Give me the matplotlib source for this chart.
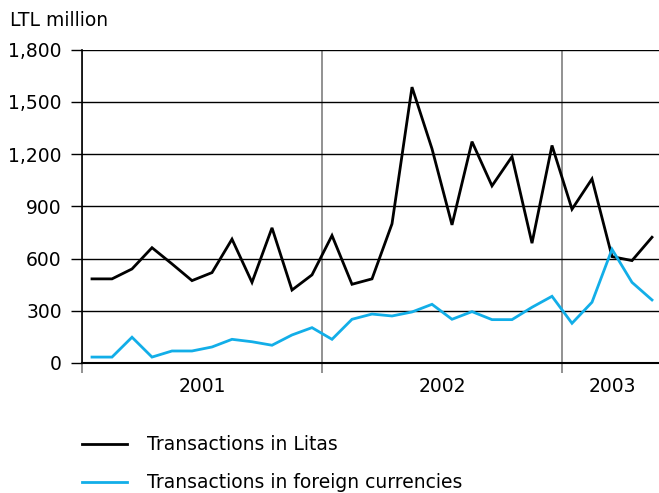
import numpy as np
import matplotlib
matplotlib.use("Agg")
from matplotlib import pyplot as plt
from matplotlib.lines import Line2D
import matplotlib.transforms as mtransforms

# monthly values, Jan 2001 - May 2003, LTL million
litas = [483, 483, 540, 662, 569, 473, 519, 711, 463, 776, 419, 506,
         732, 452, 483, 799, 1584, 1230, 793, 1271, 1017, 1185, 688, 1249,
         883, 1057, 611, 588, 722]
foreign = [34, 34, 148, 34, 69, 69, 92, 136, 122, 102, 161, 203,
           136, 251, 281, 270, 293, 337, 251, 295, 249, 249, 320, 383,
           228, 349, 653, 463, 362]
years = ["2001", "2002", "2003"]
year_start = [0, 12, 24]
year_center = [6, 18, 26.5]
labels = ["Transactions in Litas", "Transactions in foreign currencies"]

plt.rcParams['font.family'] = ['DejaVu Sans']
fs = 13.5

fig = plt.figure(figsize=(6.59, 4.93), dpi=100)
W, H = 659, 493
ax = fig.add_axes([82 / W, 1 - 363 / H, 580 / W, (363 - 49.5) / H])

x = np.arange(len(litas)) + 0.5
ax.plot(x, litas, color="black", lw=2.0, solid_joinstyle="miter", zorder=3)
ax.plot(x, foreign, color="#12aee8", lw=2.0, solid_joinstyle="miter", zorder=3)

ax.set_xlim(0, 29)
ax.set_ylim(0, 1800)
ax.set_yticks(np.arange(0, 1801, 300))
ax.set_yticklabels([f"{v:,}" for v in range(0, 1801, 300)], fontsize=fs)
ax.tick_params(axis="y", length=8, width=1, pad=6.5, color="black")
ax.yaxis.grid(True, color="black", lw=1)

ax.set_xticks(year_start)
ax.set_xticklabels([])
ax.tick_params(axis="x", length=7, width=1.2, color="#7f7f7f")
ax.xaxis.grid(True, color="#7f7f7f", lw=1.2)
ax.set_axisbelow(True)

for s in ["top", "right"]:
    ax.spines[s].set_visible(False)
ax.spines["left"].set_color("black")
ax.spines["left"].set_linewidth(1.2)
ax.spines["bottom"].set_linewidth(1.5)

trans = mtransforms.blended_transform_factory(ax.transData, fig.transFigure)
for yr, xc in zip(years, year_center):
    ax.text(xc, 1 - 386 / H, yr, transform=trans, ha="center", va="center",
            fontsize=fs)

fig.text(10 / W, 1 - 20 / H, "LTL million", ha="left", va="center", fontsize=fs)

handles = [Line2D([], [], color="black", lw=2.0),
           Line2D([], [], color="#12aee8", lw=2.0)]
fig.legend(handles, labels, loc="upper left", bbox_to_anchor=(74 / W, 1 - 428 / H),
           frameon=False, fontsize=fs, handlelength=2.45, handletextpad=1.05,
           labelspacing=1.0, borderaxespad=0)

fig.savefig("out.png", dpi=100)
